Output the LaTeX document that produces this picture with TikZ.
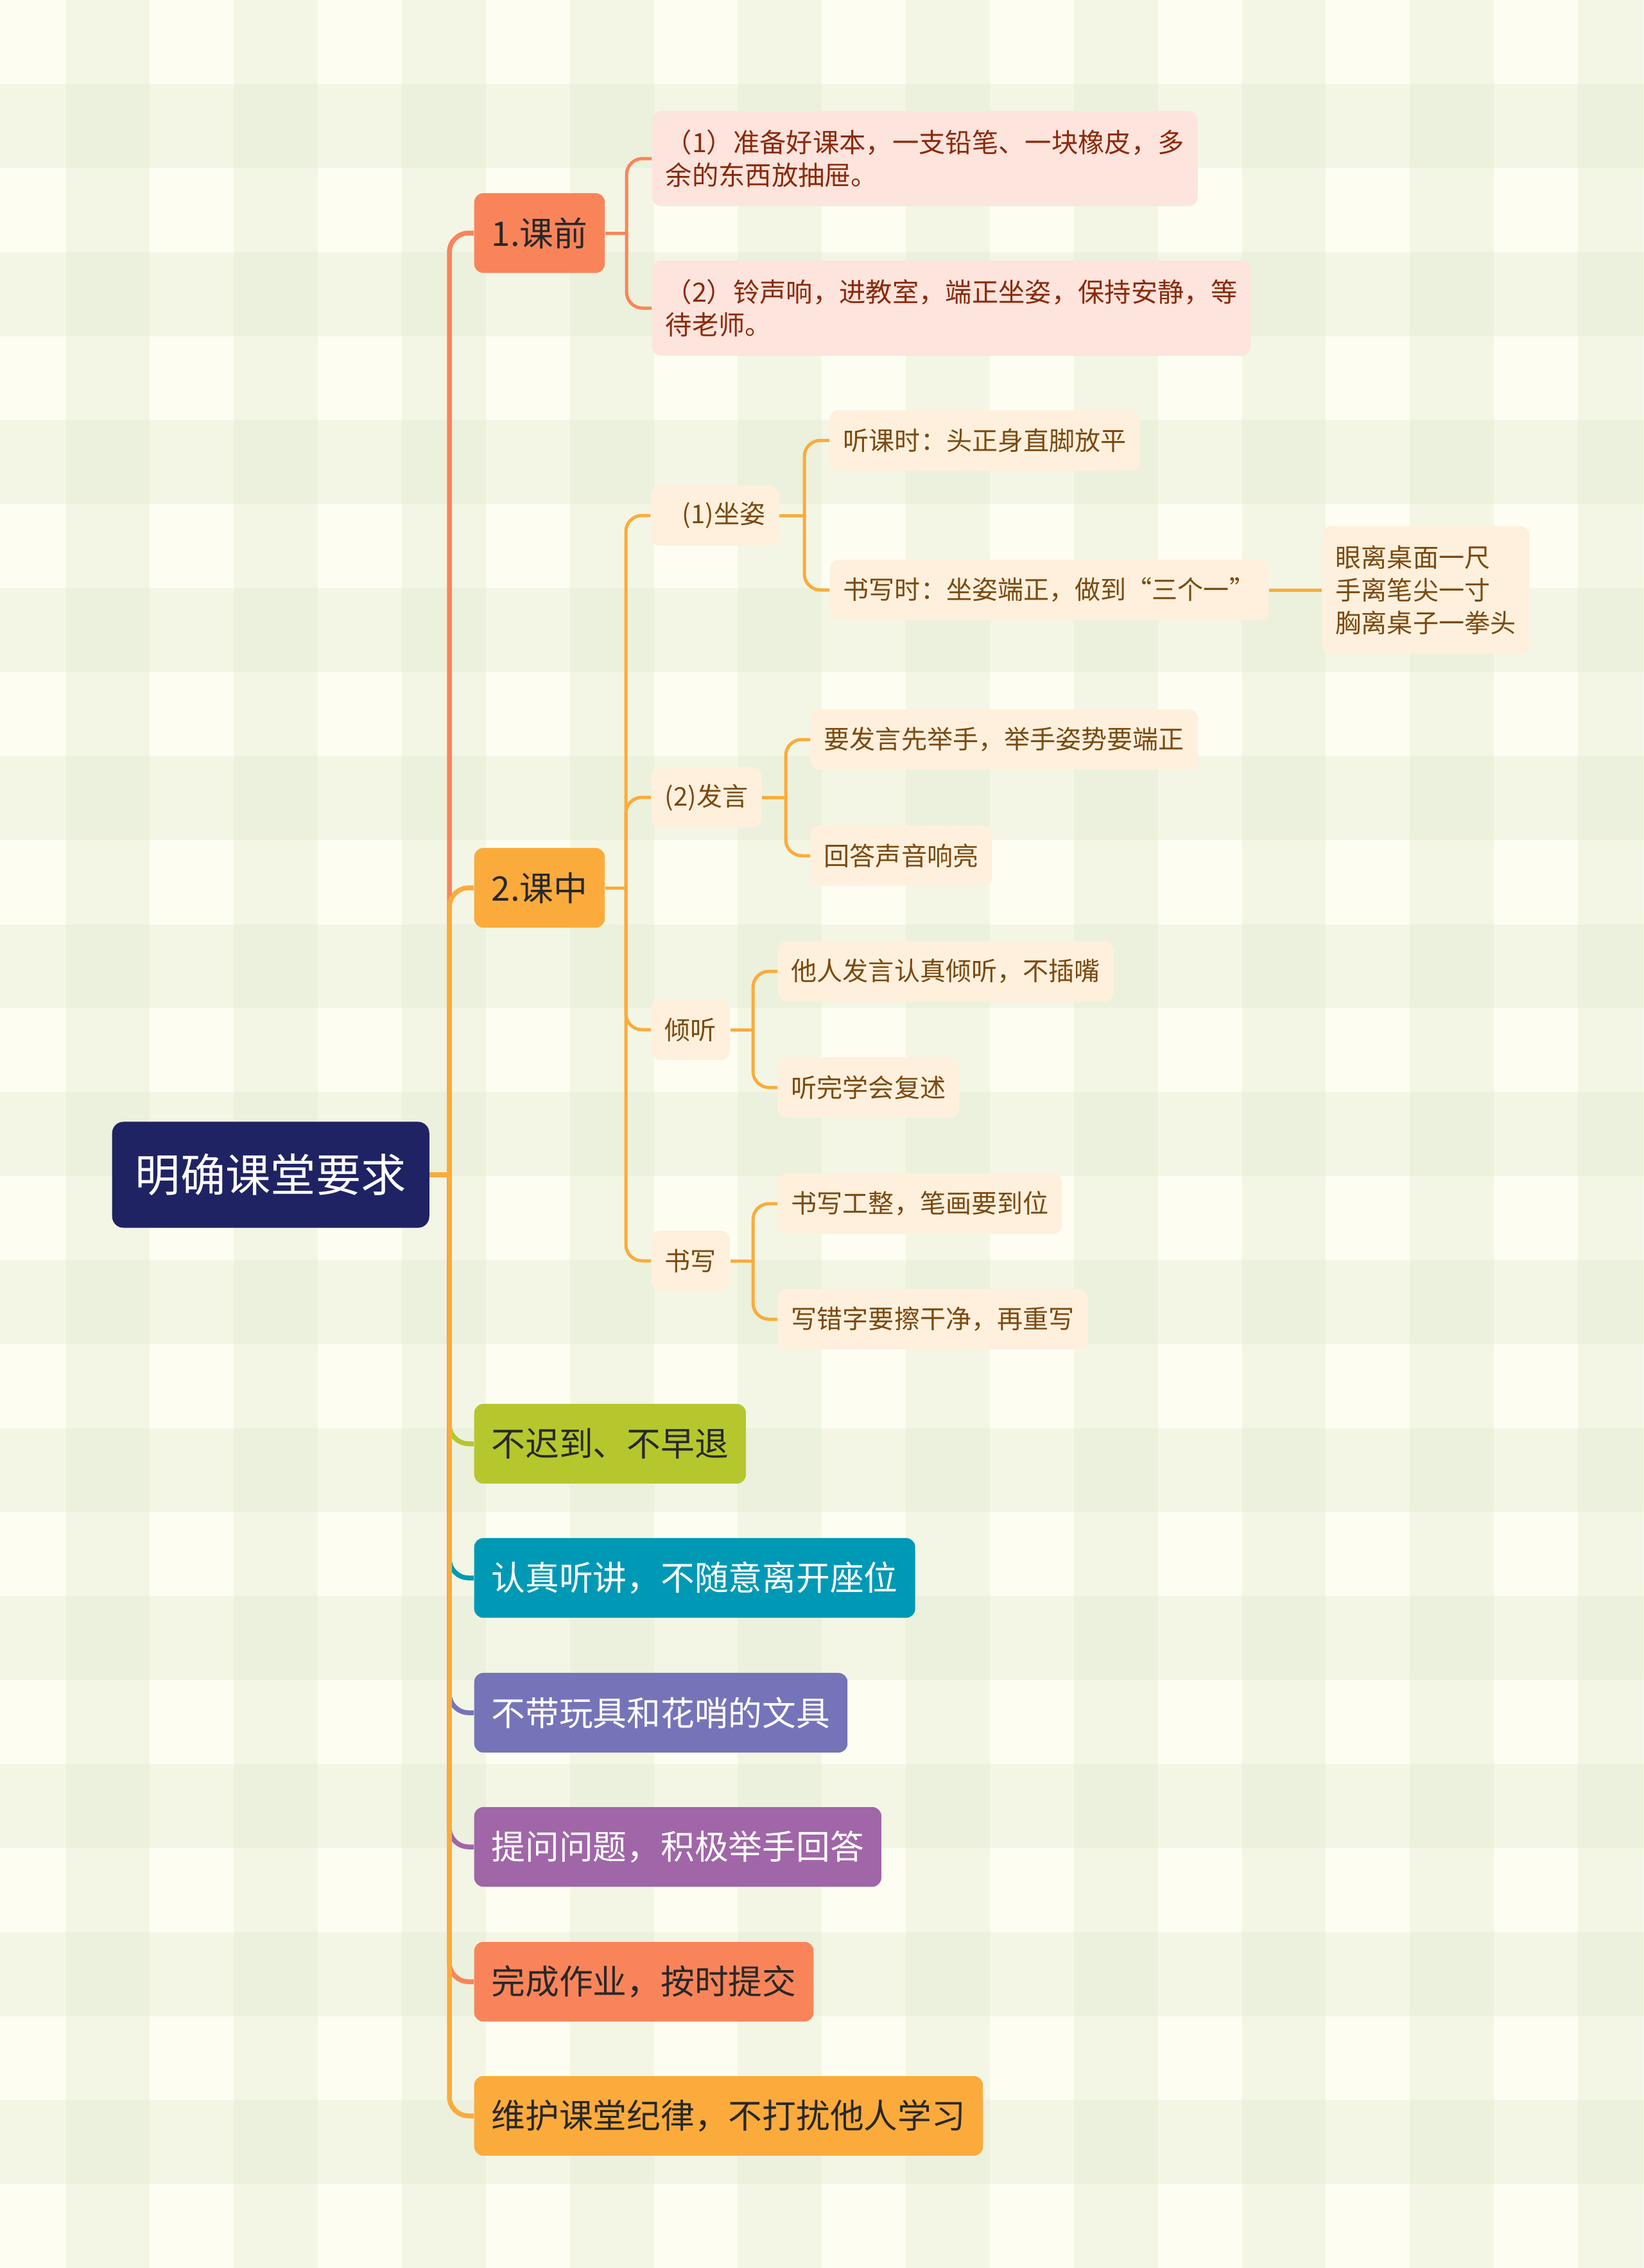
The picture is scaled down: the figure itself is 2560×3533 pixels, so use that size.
\documentclass[tikz,border=0pt]{standalone}
\usepackage{fontspec}
\setmainfont{Noto Sans CJK SC}
\usetikzlibrary{positioning}
\definecolor{bgCream}{RGB}{254,253,242}
\definecolor{stripeGreen}{RGB}{214,229,194}
\definecolor{rootNavy}{RGB}{31,35,99}
\definecolor{preOrange}{RGB}{249,132,90}
\definecolor{midOrange}{RGB}{251,171,59}
\definecolor{lateGreen}{RGB}{181,199,45}
\definecolor{listenTeal}{RGB}{0,153,181}
\definecolor{toyPurple}{RGB}{118,116,184}
\definecolor{askPurple}{RGB}{160,102,168}
\definecolor{prePink}{RGB}{253,228,220}
\definecolor{midPeach}{RGB}{254,240,220}
\definecolor{preText}{RGB}{138,42,12}
\definecolor{midText}{RGB}{122,74,18}
\definecolor{mainText}{RGB}{40,40,40}
\tikzset{
    every node/.append style={align=left},
    rootbox/.style={rectangle,rounded corners=5pt,fill=rootNavy,text=white,anchor=west,
        font=\fontsize{20}{24}\selectfont,inner xsep=0.36cm,minimum height=1.65cm},
    mainbox/.style={rectangle,rounded corners=4pt,text=mainText,anchor=west,
        font=\fontsize{15}{18}\selectfont,inner xsep=0.27cm,minimum height=1.24cm},
    subbox/.style={rectangle,rounded corners=4pt,anchor=west,
        font=\fontsize{11.4}{14.6}\selectfont,inner xsep=0.21cm,minimum height=0.94cm},
    preleaf/.style={subbox,fill=prePink,text=preText,minimum height=1.48cm,
        font=\fontsize{11.75}{14.7}\selectfont},
    midleaf/.style={subbox,fill=midPeach,text=midText},
    trunk/.style={line width=0.075cm,rounded corners=0.3cm},
    twig/.style={line width=0.05cm,rounded corners=0.25cm},
    stripe/.style={fill=stripeGreen,fill opacity=0.25}
}
\begin{document}
\begin{tikzpicture}[x=0.01cm,y=-0.01cm]
    \useasboundingbox (0,0) rectangle (2560,3533);
    \fill[bgCream] (0,0) rectangle (2560,3533);
    \foreach \k in {0,...,9} { \fill[stripe] ({102.6+261.7*\k},0) rectangle ++(130.8,3533); }
    \foreach \k in {0,...,13} { \fill[stripe] (0,{131+261.7*\k}) rectangle ++(2560,130.8); }

    \node[rootbox] (root) at (174,1830) {明确课堂要求};

    \node[mainbox,fill=preOrange] (pre)    at (738,363)  {1.课前};
    \node[mainbox,fill=midOrange] (mid)    at (738,1383) {2.课中};
    \node[mainbox,fill=lateGreen] (late)   at (738,2249) {不迟到、不早退};
    \node[mainbox,fill=listenTeal,text=white] (listen) at (738,2458) {认真听讲，不随意离开座位};
    \node[mainbox,fill=toyPurple,text=white]  (toys)   at (738,2668) {不带玩具和花哨的文具};
    \node[mainbox,fill=askPurple,text=white]  (ask)    at (738,2877) {提问问题，积极举手回答};
    \node[mainbox,fill=preOrange] (work)   at (738,3087) {完成作业，按时提交};
    \node[mainbox,fill=midOrange] (order)  at (738,3296) {维护课堂纪律，不打扰他人学习};

    \node[preleaf] (ready) at (1015,247) {（1）准备好课本，一支铅笔、一块橡皮，多\\余的东西放抽屉。};
    \node[preleaf] (bell)  at (1015,480) {（2）铃声响，进教室，端正坐姿，保持安静，等\\待老师。};

    \node[midleaf] (sit)   at (1013,803)  {\hspace*{0.28cm}(1)坐姿};
    \node[midleaf] (speak) at (1014,1242) {(2)发言};
    \node[midleaf] (hear)  at (1014,1604) {倾听};
    \node[midleaf] (write) at (1014,1964) {书写};

    \node[midleaf] (sitlisten) at (1292,686) {听课时：头正身直脚放平};
    \node[midleaf] (sitwrite)  at (1292,919) {书写时：坐姿端正，做到“三个一”};
    \node[midleaf,minimum height=1.99cm] (three) at (2059,919) {眼离桌面一尺\\手离笔尖一寸\\胸离桌子一拳头};
    \node[midleaf] (hand)   at (1262,1152) {要发言先举手，举手姿势要端正};
    \node[midleaf] (loud)   at (1262,1333) {回答声音响亮};
    \node[midleaf] (heed)   at (1211,1513) {他人发言认真倾听，不插嘴};
    \node[midleaf] (retell) at (1211,1694) {听完学会复述};
    \node[midleaf] (neat)   at (1211,1875) {书写工整，笔画要到位};
    \node[midleaf] (erase)  at (1211,2055) {写错字要擦干净，再重写};

    \coordinate (trunkFork) at (700,1830);
    \coordinate (preFork)   at (976,363);
    \coordinate (midFork)   at (975,1383);
    \coordinate (sitFork)   at (1253,803);
    \coordinate (speakFork) at (1224,1242);
    \coordinate (hearFork)  at (1173,1604);
    \coordinate (writeFork) at (1173,1964);

    \draw[trunk,preOrange] (trunkFork) |- (pre.west);
    \draw[trunk,midOrange] (trunkFork) |- (mid.west);
    \foreach \n/\c in {late/lateGreen,listen/listenTeal,toys/toyPurple,ask/askPurple,work/preOrange,order/midOrange}
        { \draw[trunk,\c] (trunkFork) |- (\n.west); }
    \draw[trunk,midOrange] (root.east) -- (trunkFork);

    \draw[twig,preOrange] (pre.east) -- (preFork);
    \foreach \n in {ready,bell} { \draw[twig,preOrange] (preFork) |- (\n.west); }
    \draw[twig,midOrange] (mid.east) -- (midFork);
    \foreach \n in {sit,speak,hear,write} { \draw[twig,midOrange] (midFork) |- (\n.west); }
    \draw[twig,midOrange] (sit.east) -- (sitFork);
    \foreach \n in {sitlisten,sitwrite} { \draw[twig,midOrange] (sitFork) |- (\n.west); }
    \draw[twig,midOrange] (sitwrite.east) -- (three.west);
    \draw[twig,midOrange] (speak.east) -- (speakFork);
    \foreach \n in {hand,loud} { \draw[twig,midOrange] (speakFork) |- (\n.west); }
    \draw[twig,midOrange] (hear.east) -- (hearFork);
    \foreach \n in {heed,retell} { \draw[twig,midOrange] (hearFork) |- (\n.west); }
    \draw[twig,midOrange] (write.east) -- (writeFork);
    \foreach \n in {neat,erase} { \draw[twig,midOrange] (writeFork) |- (\n.west); }
\end{tikzpicture}
\end{document}
